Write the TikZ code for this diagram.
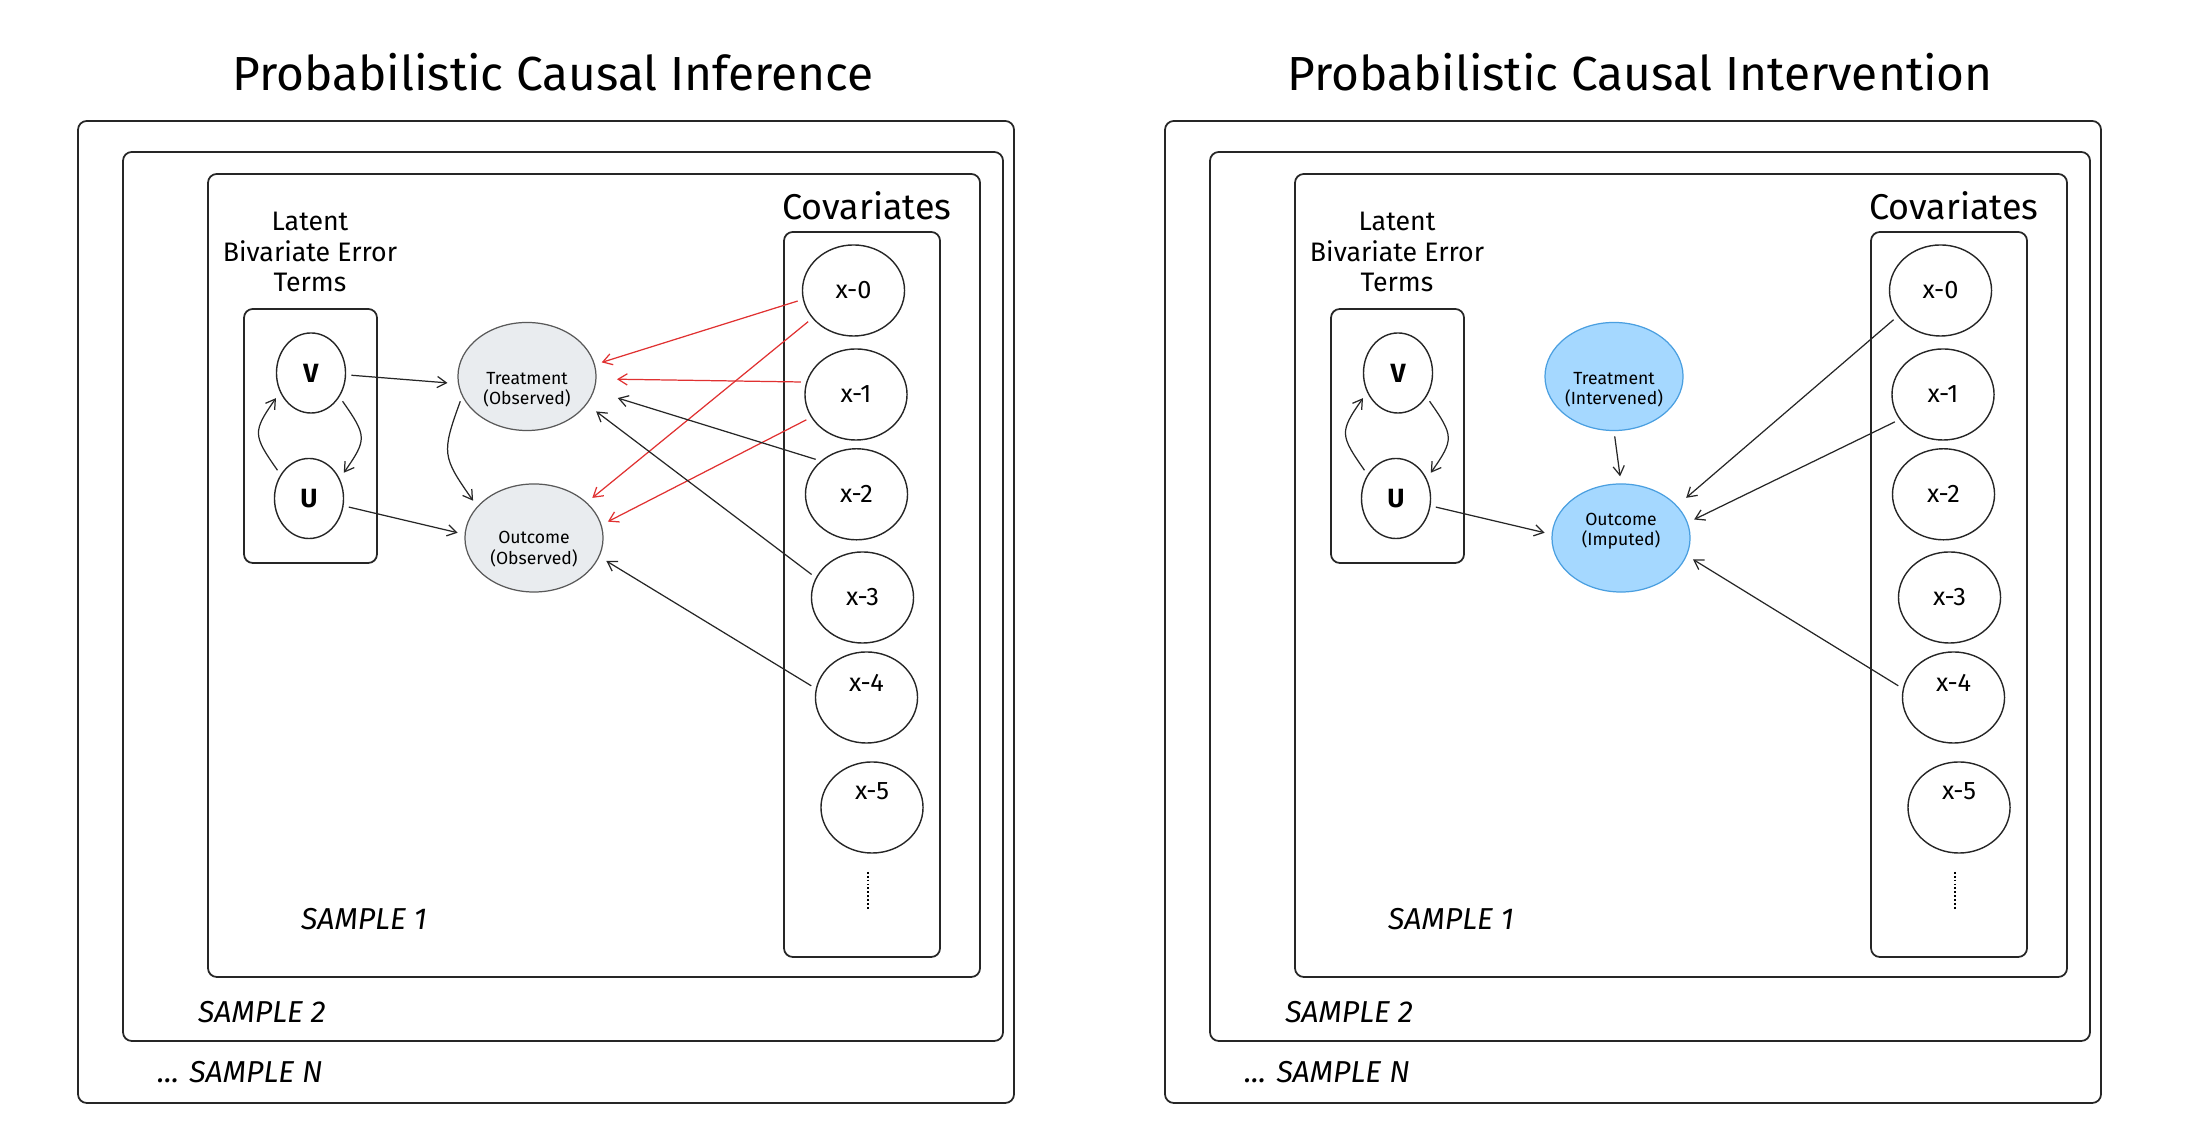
\documentclass[tikz,border=0pt]{standalone}
\usepackage{fontspec}
\setmainfont{Fira Sans}
\usetikzlibrary{shapes.geometric,arrows.meta}
\definecolor{obsgray}{HTML}{E9ECEF}
\definecolor{intblue}{HTML}{A5D8FF}
\definecolor{intedge}{HTML}{4A9FE0}
\definecolor{linkred}{HTML}{E03131}

\begin{document}
\begin{tikzpicture}[x=0.01cm, y=0.01cm, >={Straight Barb[length=2.6pt,width=3.2pt]},
        frame/.style={draw=black!85, line width=0.5pt, rounded corners=2.5pt},
        title/.style={font=\fontsize{13.6}{15}\selectfont},
        heading/.style={font=\fontsize{10.2}{12}\selectfont},
        latent/.style={align=center, font=\fontsize{7.6}{8.8}\selectfont},
        sample/.style={font=\fontsize{8.6}{10}\selectfont\itshape},
        errnode/.style={ellipse, draw=black!85, line width=0.4pt, minimum width=6.9mm, minimum height=8mm, inner sep=0pt, font=\fontsize{7.5}{8}\selectfont\bfseries},
        varnode/.style={ellipse, line width=0.35pt, minimum width=13.8mm, minimum height=10.8mm, inner sep=0pt},
        vartext/.style={align=center, inner sep=0pt, font=\fontsize{5}{5.8}\selectfont},
        covar/.style={ellipse, draw=black!85, line width=0.4pt, minimum width=10.2mm, minimum height=9.1mm, inner sep=0pt},
        covlabel/.style={font=\fontsize{7.2}{8}\selectfont},
        link/.style={->, line width=0.35pt, black!85, shorten <=1.5pt, shorten >=2pt},
        redlink/.style={link, linkred}]
        \useasboundingbox (0,0) rectangle (2186,1140);

        % Titles
        \node[title] (ttl) at (553,1068) {Probabilistic Causal Inference};
        \node[title] (ttr) at (1640,1068) {Probabilistic Causal Intervention};

        % Shared plate layout of both panels
        \foreach \p/\dx in {l/0, r/1087} {
            \draw[frame] (78+\dx,37) rectangle (1014+\dx,1019);
            \draw[frame] (123+\dx,99) rectangle (1003+\dx,988);
            \draw[frame] (208+\dx,163) rectangle (980+\dx,966);

            % Error terms
            \node[latent] (lat\p) at (310+\dx,888) {Latent\\Bivariate Error\\Terms};
            \draw[frame] (244+\dx,577) rectangle (377+\dx,831);
            \node[errnode] (V\p) at (311+\dx,767) {V};
            \node[errnode] (U\p) at (309+\dx,641.5) {U};
            \draw[link] (U\p.140) to[out=125, in=-125, looseness=1.5] (V\p.212);
            \draw[link] (V\p.-40) to[out=-55, in=55, looseness=1.5] (U\p.33);

            % Covariates
            \node[heading] (cov\p) at (867+\dx,934) {Covariates};
            \draw[frame] (784+\dx,183) rectangle (940+\dx,908);
            \foreach \i/\x/\y/\s in {0/853.5/849.5/0, 1/856/745.5/0, 2/856.5/645.7/0, 3/862.5/542.5/0, 4/866.5/442.5/1.45, 5/872/332.5/1.6} {
                \node[covar] (x\i\p) at (\x+\dx,\y) {};
                \node[covlabel] (lx\i\p) at ([yshift=\s mm]x\i\p.center) {x-\i};
            }
            \draw[line width=0.5pt, dash pattern=on 0.5pt off 0.6pt] (868+\dx,268) -- (868+\dx,230);

            % Plate labels
            \node[sample] (sa\p) at (364+\dx,221) {SAMPLE 1};
            \node[sample] (sb\p) at (262+\dx,128) {SAMPLE 2};
            \node[sample] (sn\p) at (240+\dx,68) {... SAMPLE N};
        }

        % Inference panel
        \node[varnode, draw=black!65, fill=obsgray] (Tl) at (527,763.5) {};
        \node[vartext] (tTl) at ([yshift=-1.35mm]Tl.center) {Treatment\\(Observed)};
        \node[varnode, draw=black!65, fill=obsgray] (Ol) at (534,602) {};
        \node[vartext] (tOl) at ([yshift=-1.1mm]Ol.center) {Outcome\\(Observed)};
        \draw[link, shorten >=3pt] (Vl.-3) -- (Tl.186);
        \draw[link] (Ul.-12) -- (Ol.177);
        \draw[link] (Tl.197) to[out=-110, in=125, looseness=1.4] (Ol.151);
        \draw[redlink] (x0l.190) -- (Tl.10);
        \draw[redlink] (x0l.214) -- (Ol.34);
        \draw[redlink, shorten >=5.8pt] (x1l.166) -- (Tl.-2);
        \draw[redlink] (x1l.207) -- (Ol.11);
        \draw[link, shorten >=7pt] (x2l.137) -- (Tl.-12);
        \draw[link, shorten >=3.3pt] (x3l.157) -- (Tl.-25);
        \draw[link, shorten >=2.3pt] (x4l.170) -- (Ol.-16);

        % Intervention panel
        \node[varnode, draw=intedge, fill=intblue] (Tr) at (1614,763.5) {};
        \node[vartext] (tTr) at ([yshift=-1.3mm]Tr.center) {Treatment\\(Intervened)};
        \node[varnode, draw=intedge, fill=intblue] (Or) at (1621,602) {};
        \node[vartext] (tOr) at ([yshift=0.65mm]Or.center) {Outcome\\(Imputed)};
        \draw[link] (Tr.south) -- (Or.north);
        \draw[link] (Ur.-12) -- (Or.177);
        \draw[link, shorten >=3.4pt] (x0r.211) -- (Or.30);
        \draw[link] (x1r.210) -- (Or.13);
        \draw[link] (x4r.170) -- (Or.-15);
    \end{tikzpicture}
\end{document}
